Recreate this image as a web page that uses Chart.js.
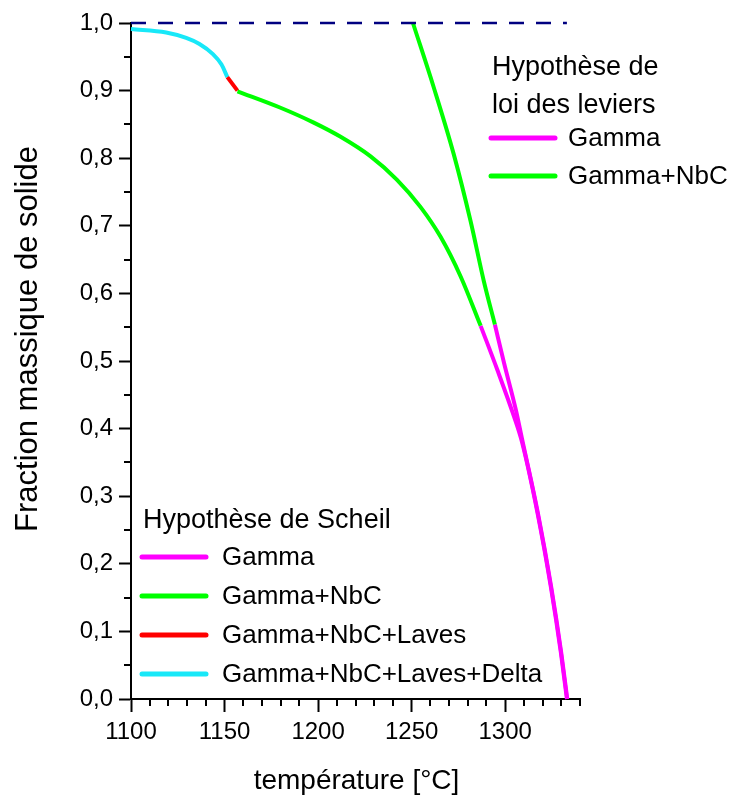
<!DOCTYPE html>
<html>
<head>
<meta charset="utf-8">
<script src="https://cdn.jsdelivr.net/npm/chart.js@4/dist/chart.umd.min.js"></script>
<style>
  html, body { margin: 0; padding: 0; background: #fff; }
  #wrap { width: 733px; height: 796px; position: relative; }
</style>
</head>
<body>
<div id="wrap"><canvas id="chartFraction"></canvas></div>
<script>
(function() {
    'use strict';

    // Hypothèse de Scheil — température (°C) / fraction massique
    var scheilDeltaT = [1100, 1118.8, 1129.5, 1136.6, 1143.8, 1148.3, 1151.5];
    var scheilDeltaF = [0.991, 0.986, 0.978, 0.969, 0.954, 0.939, 0.920];
    var scheilLavesT = [1151.5, 1156.9];
    var scheilLavesF = [0.920, 0.900];
    var scheilNbcT = [1156.9, 1179.6, 1197.4, 1211.8, 1227.9, 1242.2, 1254.7, 1265.4, 1276.2, 1286.9];
    var scheilNbcF = [0.899, 0.875, 0.853, 0.832, 0.803, 0.768, 0.728, 0.684, 0.625, 0.552];
    var scheilGammaT = [1286.9, 1295.8, 1304.7, 1309.0, 1317.3, 1324.4, 1329.8, 1333.0];
    var scheilGammaF = [0.552, 0.487, 0.418, 0.380, 0.275, 0.166, 0.068, 0.0];

    // Hypothèse de loi des leviers
    var leverNbcT = [1250.7, 1261.8, 1272.5, 1281.5, 1288.6, 1294.5];
    var leverNbcF = [1.0, 0.905, 0.806, 0.707, 0.618, 0.554];
    var leverGammaT = [1294.5, 1299.4, 1305.7, 1309.0, 1317.5, 1324.6, 1330.0, 1333.2];
    var leverGammaF = [0.554, 0.497, 0.428, 0.385, 0.275, 0.166, 0.068, 0.0];

    // limite à 1,0
    var limitT = [1100, 1333];
    var limitF = [1.0, 1.0];

    var xTicks = [1100, 1150, 1200, 1250, 1300];
    var yTicks = ['0,0', '0,1', '0,2', '0,3', '0,4', '0,5', '0,6', '0,7', '0,8', '0,9', '1,0'];

    var scheilLabels = ['Gamma', 'Gamma+NbC', 'Gamma+NbC+Laves', 'Gamma+NbC+Laves+Delta'];
    var leverLabels = ['Gamma', 'Gamma+NbC'];

    var GAMMA = '#ff00ff', NBC = '#00ff00', LAVES = '#ff0000', DELTA = '#18e8f8';
    var FONT = '"Liberation Sans", Arial, Helvetica, sans-serif';

    function pts(xs, ys) {
        return xs.map(function(x, i) { return { x: x, y: ys[i] }; });
    }

    function serie(xs, ys, color) {
        return {
            data: pts(xs, ys),
            borderColor: color,
            borderWidth: 4,
            pointRadius: 0,
            cubicInterpolationMode: 'monotone',
            fill: false,
            clip: false
        };
    }

    function isMajorX(v) { return xTicks.indexOf(v) !== -1; }
    function isMajorY(v) { return Math.round(v * 100) % 10 === 0; }

    var decor = {
        id: 'decor',
        afterDraw: function(chart) {
            var c = chart.ctx, xs = chart.scales.x, ys = chart.scales.y;
            var ca = chart.chartArea;
            c.save();
            // petites graduations
            c.strokeStyle = '#000';
            c.lineWidth = 2;
            xs.ticks.forEach(function(t) {
                if (isMajorX(t.value)) return;
                var px = Math.round(xs.getPixelForValue(t.value));
                c.beginPath(); c.moveTo(px, ca.bottom); c.lineTo(px, ca.bottom + 7); c.stroke();
            });
            ys.ticks.forEach(function(t) {
                if (isMajorY(t.value)) return;
                var py = Math.round(ys.getPixelForValue(t.value));
                c.beginPath(); c.moveTo(ca.left, py); c.lineTo(ca.left - 7, py); c.stroke();
            });

            // titres des axes
            c.fillStyle = '#000';
            c.font = '28px ' + FONT;
            c.textAlign = 'center';
            c.textBaseline = 'alphabetic';
            c.fillText('température [°C]', (ca.left + ca.right) / 2 + 1, 789);
            c.save();
            c.translate(37, 339);
            c.rotate(-Math.PI / 2);
            c.font = '31px ' + FONT;
            c.fillText('Fraction massique de solide', 0, 0);
            c.restore();

            // légendes
            function legend(title, x, y, labels, colors, lineY, step, textX) {
                c.textAlign = 'left';
                c.textBaseline = 'alphabetic';
                c.font = '27px ' + FONT;
                title.forEach(function(line, i) { c.fillText(line, x, y + i * 38); });
                c.lineCap = 'round';
                c.lineWidth = 5;
                labels.forEach(function(lab, i) {
                    var ly = lineY + i * step;
                    c.strokeStyle = colors[i];
                    c.beginPath(); c.moveTo(x - 1, ly); c.lineTo(x + 63, ly); c.stroke();
                    c.font = '26px ' + FONT;
                    c.textBaseline = 'middle';
                    c.fillText(lab, textX, ly + 1);
                    c.textBaseline = 'alphabetic';
                });
            }
            legend(['Hypothèse de Scheil'], 143, 528, scheilLabels,
                [GAMMA, NBC, LAVES, DELTA], 557, 39, 222);
            legend(['Hypothèse de', 'loi des leviers'], 492, 75, leverLabels,
                [GAMMA, NBC], 138, 38, 568);
            c.restore();
        }
    };

    var ctx = document.getElementById('chartFraction');
    new Chart(ctx, {
        type: 'line',
        data: {
            datasets: [
                Object.assign(serie(limitT, limitF, '#000080'), { borderWidth: 2.5, borderDash: [15, 12], cubicInterpolationMode: 'default', tension: 0 }),
                serie(scheilNbcT, scheilNbcF, NBC),
                serie(leverNbcT, leverNbcF, NBC),
                serie(scheilGammaT, scheilGammaF, GAMMA),
                serie(leverGammaT, leverGammaF, GAMMA),
                serie(scheilLavesT, scheilLavesF, LAVES),
                serie(scheilDeltaT, scheilDeltaF, DELTA)
            ]
        },
        options: {
            responsive: true,
            maintainAspectRatio: false,
            animation: false,
            layout: { padding: { top: 23, right: 153, left: 0, bottom: 0 } },
            plugins: {
                legend: { display: false },
                tooltip: { enabled: false }
            },
            scales: {
                x: {
                    type: 'linear',
                    min: 1100,
                    max: 1340,
                    afterFit: function(s) { s.height = 97; },
                    border: { display: true, color: '#000', width: 2 },
                    grid: {
                        drawOnChartArea: false,
                        tickLength: 13,
                        tickWidth: 2,
                        tickColor: function(c) { return c.tick && isMajorX(c.tick.value) ? '#000' : 'rgba(0,0,0,0)'; }
                    },
                    ticks: {
                        stepSize: 10,
                        autoSkip: false,
                        maxRotation: 0,
                        padding: 6,
                        color: '#000',
                        font: { family: FONT, size: 24 },
                        callback: function(v) { return isMajorX(v) ? String(v) : ''; }
                    }
                },
                y: {
                    min: 0,
                    max: 1,
                    afterFit: function(s) { s.width = 131; },
                    border: { display: true, color: '#000', width: 2 },
                    grid: {
                        drawOnChartArea: false,
                        tickLength: 12,
                        tickWidth: 2,
                        tickColor: function(c) { return c.tick && isMajorY(c.tick.value) ? '#000' : 'rgba(0,0,0,0)'; }
                    },
                    ticks: {
                        stepSize: 0.05,
                        autoSkip: false,
                        padding: 6,
                        color: '#000',
                        font: { family: FONT, size: 24 },
                        callback: function(v) {
                            return isMajorY(v) ? yTicks[Math.round(v * 10)] : '';
                        }
                    }
                }
            }
        },
        plugins: [decor]
    });
})();
</script>
</body>
</html>
